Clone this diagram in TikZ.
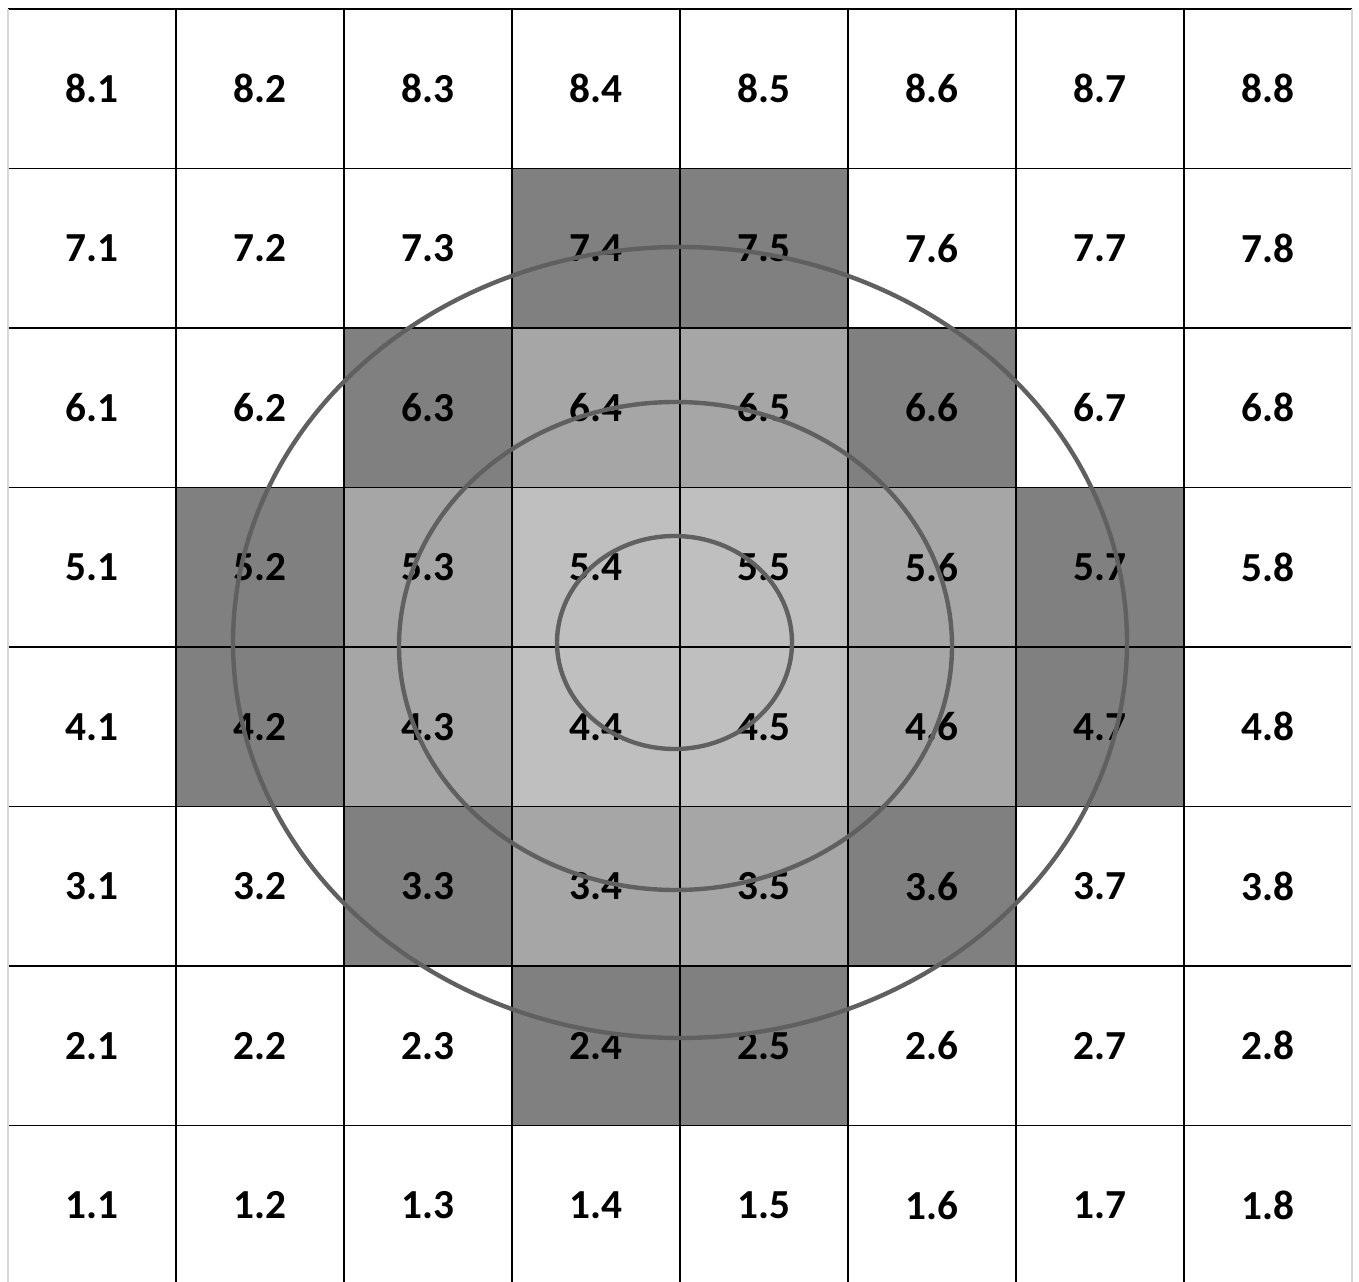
\documentclass[tikz,border=0pt]{standalone}
\usepackage{fontspec}
\setmainfont{Carlito}
\usetikzlibrary{positioning}

\definecolor{ringin}{HTML}{BFBFBF}
\definecolor{ringmid}{HTML}{A6A6A6}
\definecolor{ringout}{HTML}{808080}
\definecolor{ovalline}{HTML}{606060}
\definecolor{edgeline}{HTML}{D8D8D8}

\tikzset{
  cell/.style={minimum width=3.36cm, minimum height=3.19cm, inner sep=0pt, outer sep=0pt,
    font=\fontsize{23.5}{28}\selectfont\bfseries},
  gridline/.style={line width=1.1pt, black},
  oval/.style={draw=ovalline, line width=2.5pt},
}

\begin{document}
\begin{tikzpicture}
  \useasboundingbox (-0.16,0.18) rectangle (27.02,-25.46);
  % cells, shaded by ring around the centre
  \foreach \r in {1,...,8} {
    \foreach \c in {1,...,8} {
      \pgfmathtruncatemacro\ring{round((abs(2*\c-9)+abs(2*\r-9))/2)}
      \edef\shade{\ifcase\ring white\or ringin\or ringmid\or ringout\else white\fi}
      \node (cell-\r-\c) [cell, fill=\shade] at ({(\c-0.5)*3.36}, {-(8.5-\r)*3.19}) {\r.\c};
    }
  }
  % grid
  \foreach \c in {1,...,7}
    \draw[gridline] (cell-8-\c.north east) -- (cell-1-\c.south east);
  \foreach \r in {2,...,8}
    \draw[gridline] (cell-\r-1.south west) -- (cell-\r-8.south east);
  \draw[gridline, line width=1.6pt] (cell-8-1.north west) -- (cell-8-8.north east);
  \draw[edgeline, line width=0.8pt] (cell-8-1.north west) -- (cell-1-1.south west);
  \draw[edgeline, line width=0.8pt] (cell-8-8.north east) -- (cell-1-8.south east);
  % rings
  \draw[oval] (13.33,-12.67) ellipse [x radius=2.35, y radius=2.13];
  \draw[oval] (13.35,-12.74) ellipse [x radius=5.53, y radius=4.88];
  \draw[oval] (13.44,-12.67) ellipse [x radius=8.94, y radius=7.91];
\end{tikzpicture}
\end{document}
